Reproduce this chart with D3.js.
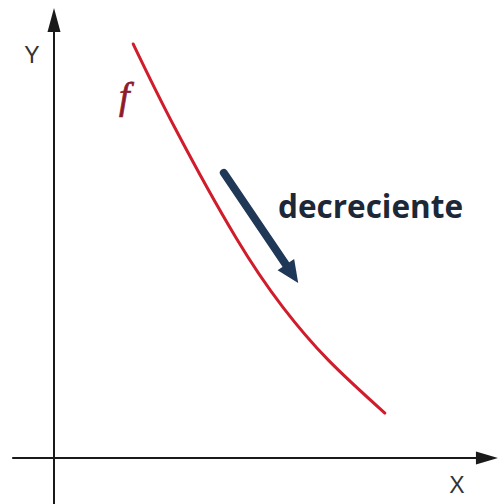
<!DOCTYPE html>
<html>
<head>
<meta charset="utf-8">
<script src="https://cdn.jsdelivr.net/npm/d3@7"></script>
<style>
  html, body { margin: 0; padding: 0; background: #fff; }
  svg { display: block; }
</style>
</head>
<body>
<svg id="chart" width="498" height="504"></svg>
<script>
// Curve f (decreasing), in axis units
const curveX = [1.80, 2.75, 4.14, 5.20, 6.23, 7.52];
const curveY = [9.41, 7.50, 5.00, 3.43, 2.23, 1.02];
// Axis extents (axis units)
const xAxisRange = [-0.95, 10.09];
const yAxisRange = [-1.05, 10.23];
// Annotation arrow: start and tip (axis units)
const arrowStart = [3.86, 6.48];
const arrowEnd = [5.55, 3.98];
// Labels
const axisLabels = ["X", "Y"];
const curveLabel = "f";
const annotation = "decreciente";

const svg = d3.select("#chart");
const x = d3.scaleLinear().domain([0, 10]).range([54, 494]);
const y = d3.scaleLinear().domain([0, 10]).range([458, 18]);

const axisColor = "#1a1a1a";

// X axis
svg.append("line")
  .attr("x1", x(xAxisRange[0])).attr("x2", x(xAxisRange[1]) - 16)
  .attr("y1", y(0)).attr("y2", y(0))
  .attr("stroke", axisColor).attr("stroke-width", 2);
svg.append("path")
  .attr("d", `M${x(xAxisRange[1])},${y(0)} L${x(xAxisRange[1]) - 22},${y(0) - 6.5} L${x(xAxisRange[1]) - 22},${y(0) + 6.5} Z`)
  .attr("fill", axisColor);

// Y axis
svg.append("line")
  .attr("x1", x(0)).attr("x2", x(0))
  .attr("y1", y(yAxisRange[0])).attr("y2", y(yAxisRange[1]) + 16)
  .attr("stroke", axisColor).attr("stroke-width", 2);
svg.append("path")
  .attr("d", `M${x(0)},${y(yAxisRange[1])} L${x(0) - 6.5},${y(yAxisRange[1]) + 24} L${x(0) + 6.5},${y(yAxisRange[1]) + 24} Z`)
  .attr("fill", axisColor);

// Axis labels
svg.append("text").text(axisLabels[0])
  .attr("x", 457).attr("y", 493)
  .attr("text-anchor", "middle")
  .attr("font-family", "Liberation Sans, Arial, sans-serif")
  .attr("font-size", 23).attr("fill", "#333");
svg.append("text").text(axisLabels[1])
  .attr("x", 32).attr("y", 63)
  .attr("text-anchor", "middle")
  .attr("font-family", "Liberation Sans, Arial, sans-serif")
  .attr("font-size", 23).attr("fill", "#333");

// Curve
const pts = curveX.map((v, i) => [v, curveY[i]]);
const line = d3.line()
  .x(d => x(d[0])).y(d => y(d[1]))
  .curve(d3.curveNatural);
svg.append("path")
  .attr("d", line(pts))
  .attr("fill", "none")
  .attr("stroke", "#d01c2b")
  .attr("stroke-width", 3)
  .attr("stroke-linecap", "round");

// Curve label
svg.append("text").text(curveLabel)
  .attr("x", 119).attr("y", 109)
  .attr("font-family", "Liberation Serif, Times New Roman, serif")
  .attr("font-style", "italic")
  .attr("font-size", 38)
  .attr("fill", "#8e1b2c")
  .attr("stroke", "#8e1b2c")
  .attr("stroke-width", 0.7);

// Annotation arrow
const ax0 = x(arrowStart[0]), ay0 = y(arrowStart[1]);
const ax1 = x(arrowEnd[0]), ay1 = y(arrowEnd[1]);
const ang = Math.atan2(ay1 - ay0, ax1 - ax0);
const headLen = 22, headHalf = 10;
const bx = ax1 - headLen * Math.cos(ang), by = ay1 - headLen * Math.sin(ang);
const navy = "#1f3857";
svg.append("line")
  .attr("x1", ax0).attr("y1", ay0)
  .attr("x2", bx + 2 * Math.cos(ang)).attr("y2", by + 2 * Math.sin(ang))
  .attr("stroke", navy).attr("stroke-width", 8)
  .attr("stroke-linecap", "round");
svg.append("path")
  .attr("d", `M${ax1},${ay1} L${bx - headHalf * Math.sin(ang)},${by + headHalf * Math.cos(ang)} L${bx + headHalf * Math.sin(ang)},${by - headHalf * Math.cos(ang)} Z`)
  .attr("fill", navy);

// Annotation text
svg.append("text").text(annotation)
  .attr("x", 278).attr("y", 218)
  .attr("font-family", "Open Sans, sans-serif")
  .attr("font-weight", "bold")
  .attr("font-size", 31.5)
  .attr("fill", "#1c2838");
</script>
</body>
</html>
